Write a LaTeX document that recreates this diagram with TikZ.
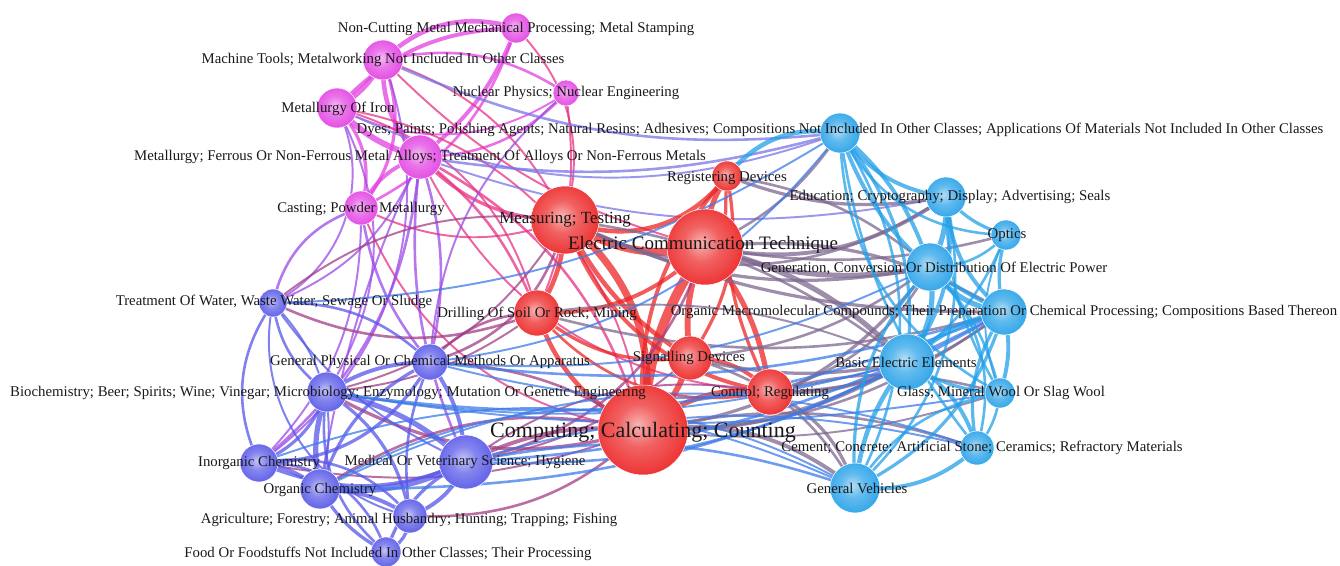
\documentclass[tikz,border=0pt]{standalone}
\usepackage{fontspec}
\setmainfont{Liberation Serif}
\pgfdeclarelayer{bg}\pgfdeclarelayer{fg}\pgfsetlayers{bg,main,fg}
\definecolor{cM}{RGB}{226,64,226}
\definecolor{cR}{RGB}{236,36,36}
\definecolor{cB}{RGB}{86,86,232}
\definecolor{cC}{RGB}{36,160,232}
\colorlet{cMR}{cM!50!cR}
\colorlet{cMB}{cM!50!cB}
\colorlet{cMC}{cM!45!cC}
\colorlet{cRB}{cR!50!cB}
\colorlet{cRC}{cR!45!cC}
\colorlet{cBC}{cB!50!cC}
\pgfdeclareradialshading{shM}{\pgfpoint{-3bp}{3bp}}{color(0bp)=(cM!35!white); color(12bp)=(cM!72!white); color(32bp)=(cM); color(50bp)=(cM!92!black)}
\pgfdeclareradialshading{shR}{\pgfpoint{-3bp}{3bp}}{color(0bp)=(cR!35!white); color(12bp)=(cR!72!white); color(32bp)=(cR); color(50bp)=(cR!92!black)}
\pgfdeclareradialshading{shB}{\pgfpoint{-3bp}{3bp}}{color(0bp)=(cB!35!white); color(12bp)=(cB!72!white); color(32bp)=(cB); color(50bp)=(cB!92!black)}
\pgfdeclareradialshading{shC}{\pgfpoint{-3bp}{3bp}}{color(0bp)=(cC!35!white); color(12bp)=(cC!72!white); color(32bp)=(cC); color(50bp)=(cC!92!black)}
\tikzset{
  nd/.style={circle, shade, shading=#1, draw=white, line width=0.5pt, inner sep=0pt},
  lab/.style={font=\fontsize{14.8}{14.8}\selectfont, text=black!90, inner sep=0pt},
  ed/.style={opacity=0.75, line cap=round}
}
\begin{document}
\begin{tikzpicture}[x=1pt,y=-1pt]
\useasboundingbox (0,0) rectangle (1340,565);
% nodes
\node[nd=shM, minimum size=30pt] (noncut) at (516,28) {};
\node[nd=shM, minimum size=40pt] (machT) at (383,60) {};
\node[nd=shM, minimum size=26pt] (nucl) at (566,93) {};
\node[nd=shM, minimum size=40pt] (metIron) at (337,108) {};
\node[nd=shM, minimum size=44pt] (alloys) at (420,157) {};
\node[nd=shM, minimum size=34pt] (casting) at (361,208) {};
\node[nd=shR, minimum size=30pt] (regDev) at (727,176) {};
\node[nd=shR, minimum size=68pt] (measuring) at (565,220) {};
\node[nd=shR, minimum size=76pt] (elecComm) at (705,247) {};
\node[nd=shR, minimum size=46pt] (drilling) at (537,313) {};
\node[nd=shR, minimum size=44pt] (signalling) at (690,358) {};
\node[nd=shR, minimum size=46pt] (control) at (770,392) {};
\node[nd=shR, minimum size=90pt] (computing) at (643,430) {};
\node[nd=shB, minimum size=28pt] (treat) at (273,303) {};
\node[nd=shB, minimum size=36pt] (genPhys) at (430,362) {};
\node[nd=shB, minimum size=40pt] (biochem) at (327,392) {};
\node[nd=shB, minimum size=38pt] (inorganic) at (259,463) {};
\node[nd=shB, minimum size=54pt] (medical) at (466,462) {};
\node[nd=shB, minimum size=40pt] (organic) at (320,489) {};
\node[nd=shB, minimum size=34pt] (agric) at (410,516) {};
\node[nd=shB, minimum size=30pt] (food) at (386,552) {};
\node[nd=shC, minimum size=40pt] (dyes) at (840,133) {};
\node[nd=shC, minimum size=40pt] (education) at (946,197) {};
\node[nd=shC, minimum size=30pt] (optics) at (1006,235) {};
\node[nd=shC, minimum size=48pt] (genConv) at (930,267) {};
\node[nd=shC, minimum size=46pt] (orgMacro) at (1004,312) {};
\node[nd=shC, minimum size=56pt] (basicElec) at (907,362) {};
\node[nd=shC, minimum size=30pt] (glass) at (1000,393) {};
\node[nd=shC, minimum size=34pt] (cement) at (977,448) {};
\node[nd=shC, minimum size=50pt] (genVeh) at (855,488) {};
% edges
\begin{pgfonlayer}{bg}
\foreach \a/\b/\c/\w/\bd in {
 noncut/machT/cM/3.5/-20, noncut/metIron/cM/3/-15, noncut/alloys/cM/3/10, noncut/casting/cM/2/15,
 machT/metIron/cM/4/10, machT/alloys/cM/3.5/-15, machT/casting/cM/2.5/20, metIron/alloys/cM/4.5/-10,
 metIron/casting/cM/2.5/20, alloys/casting/cM/3/-15, nucl/alloys/cM/2/15, nucl/machT/cM/2/-15, nucl/metIron/cM/1.5/20,
 alloys/measuring/cMR/2.5/-15, alloys/computing/cMR/2/15, alloys/drilling/cMR/2/10, metIron/drilling/cMR/1.5/20,
 machT/measuring/cMR/1.5/15, machT/elecComm/cMR/1.5/-10, casting/computing/cMR/1.5/-20, nucl/drilling/cMR/1.5/10,
 noncut/measuring/cMR/1.5/20, casting/measuring/cMR/1.5/-15, metIron/computing/cMR/1.5/25, alloys/control/cMR/1.5/-20,
 alloys/genPhys/cMB/2/10, alloys/inorganic/cMB/2/15, alloys/medical/cMB/2/-10, metIron/biochem/cMB/1.5/20,
 casting/treat/cMB/2/-20, casting/inorganic/cMB/1.5/15, machT/inorganic/cMB/1.5/25, alloys/treat/cMB/1.5/15,
 metIron/treat/cMB/1.5/30, alloys/organic/cMB/1.5/-5, casting/genPhys/cMB/2/-10, nucl/genPhys/cMB/1.5/-15,
 machT/dyes/cMC/2/-10, alloys/dyes/cMC/2/-8, alloys/education/cMC/1.5/-10, metIron/dyes/cMC/1.5/-15,
 measuring/elecComm/cR/6/-15, measuring/computing/cR/5.5/20, elecComm/computing/cR/7.5/-10, measuring/regDev/cR/3.5/-25,
 elecComm/regDev/cR/4/10, regDev/computing/cR/3/-15, measuring/drilling/cR/3.5/10, elecComm/drilling/cR/3/15,
 drilling/computing/cR/3.5/-15, signalling/computing/cR/4.5/10, elecComm/signalling/cR/4.5/-10, measuring/signalling/cR/3.5/-10,
 signalling/control/cR/3/15, control/computing/cR/4/-15, elecComm/control/cR/4/10, measuring/control/cR/3/-20,
 regDev/signalling/cR/2.5/15, regDev/control/cR/2.5/-10, drilling/signalling/cR/2.5/-15, drilling/control/cR/2/-20,
 computing/medical/cRB/3/-10, computing/biochem/cRB/2.5/15, computing/genPhys/cRB/2/-10, computing/organic/cRB/2/-15,
 computing/inorganic/cRB/1.5/10, computing/agric/cRB/2/15, measuring/genPhys/cRB/2/20, measuring/biochem/cRB/1.5/15,
 drilling/genPhys/cRB/2/-15, drilling/treat/cRB/2/15, elecComm/medical/cRB/2/20, drilling/biochem/cRB/1.5/10,
 measuring/treat/cRB/1.5/-15, control/medical/cRB/1.5/-15, signalling/medical/cRB/1.5/10,
 elecComm/genConv/cRC/4/-10, elecComm/basicElec/cRC/4/10, elecComm/education/cRC/3/-15, elecComm/orgMacro/cRC/2.5/12,
 elecComm/dyes/cRC/2/-10, elecComm/optics/cRC/2/-8, computing/basicElec/cRC/3.5/-10, computing/genVeh/cRC/3/15,
 computing/genConv/cRC/2.5/-15, computing/cement/cRC/2/10, control/basicElec/cRC/3/-10, control/genVeh/cRC/2.5/15,
 control/genConv/cRC/2/-15, control/glass/cRC/2/10, measuring/orgMacro/cRC/2.5/-8, measuring/genConv/cRC/2.5/-12,
 measuring/basicElec/cRC/2/10, regDev/dyes/cC/3.5/20, regDev/education/cRC/2.5/-10, regDev/genConv/cRC/2/10,
 signalling/basicElec/cRC/2.5/-8, signalling/genVeh/cRC/2/15, signalling/genConv/cRC/2/-10, drilling/orgMacro/cRC/2/-10,
 drilling/basicElec/cRC/1.5/10, measuring/education/cRC/2/-20, computing/orgMacro/cRC/2/-12, control/orgMacro/cRC/2/-12,
 computing/glass/cRC/1.5/-8,
 treat/genPhys/cB/2/15, treat/biochem/cB/2/-15, treat/inorganic/cB/2/-20, treat/organic/cB/1.5/20, treat/medical/cB/1.5/-10,
 genPhys/biochem/cB/3/-10, genPhys/inorganic/cB/2.5/20, genPhys/organic/cB/2.5/-15, genPhys/medical/cB/3/10,
 genPhys/agric/cB/2/-10, biochem/inorganic/cB/2.5/15, biochem/organic/cB/4/-10, biochem/medical/cB/4/10,
 biochem/agric/cB/2.5/15, biochem/food/cB/2/-20, inorganic/organic/cB/3/10, inorganic/medical/cB/2.5/-15,
 inorganic/agric/cB/2/20, inorganic/food/cB/2/25, organic/medical/cB/5/-10, organic/agric/cB/3/10,
 organic/food/cB/2.5/-10, medical/agric/cB/3/15, medical/food/cB/2.5/-15, agric/food/cB/2.5/20, treat/agric/cB/1.5/-30,
 medical/orgMacro/cBC/2/-8, medical/basicElec/cBC/2/-10, medical/genVeh/cBC/2/10, genPhys/orgMacro/cBC/2/-8,
 genPhys/basicElec/cBC/1.5/-10, biochem/orgMacro/cBC/2/-10, biochem/basicElec/cBC/1.5/-8, organic/orgMacro/cBC/2/-10,
 inorganic/genVeh/cBC/1.5/15, organic/genVeh/cBC/1.5/20, treat/dyes/cBC/1.5/-10, genPhys/dyes/cBC/1.5/-15,
 medical/cement/cBC/1.5/10, biochem/glass/cBC/1.5/-6, organic/cement/cBC/1.5/15, genPhys/genConv/cBC/1.5/-10,
 dyes/education/cC/3/-15, dyes/optics/cC/2/-20, dyes/genConv/cC/3/10, dyes/orgMacro/cC/3/-15, dyes/basicElec/cC/2.5/15,
 dyes/glass/cC/2/-20, dyes/cement/cC/2/-10, dyes/genVeh/cC/2/20, education/optics/cC/2.5/-10, education/genConv/cC/4/10,
 education/orgMacro/cC/3/-15, education/basicElec/cC/3/15, education/genVeh/cC/2/20, education/glass/cC/2/-10,
 optics/genConv/cC/2/15, optics/orgMacro/cC/2.5/-10, optics/basicElec/cC/2/10, optics/glass/cC/1.5/-15,
 genConv/orgMacro/cC/4/-15, genConv/basicElec/cC/4/15, genConv/genVeh/cC/2.5/-15, genConv/glass/cC/2/10,
 genConv/cement/cC/2/20, orgMacro/basicElec/cC/4/-10, orgMacro/glass/cC/3/10, orgMacro/cement/cC/2.5/-15,
 orgMacro/genVeh/cC/2.5/15, basicElec/glass/cC/2.5/-10, basicElec/cement/cC/3/15, basicElec/genVeh/cC/3.5/-10,
 glass/cement/cC/2/10, cement/genVeh/cC/3/15, glass/genVeh/cC/2/-15}
 {\pgfmathsetmacro\bb{1.5*\bd}
  \draw[ed, draw=\c, line width=1.3*\w pt] (\a.center) to[bend left=\bb] (\b.center);}
\end{pgfonlayer}
% labels
\begin{pgfonlayer}{fg}
\node[lab] (lnoncut) at (516,29) {Non-Cutting Metal Mechanical Processing; Metal Stamping};
\node[lab] (lmachT) at (383,60) {Machine Tools; Metalworking Not Included In Other Classes};
\node[lab] (lnucl) at (566,93) {Nuclear Physics; Nuclear Engineering};
\node[lab] (lmetIron) at (338,109) {Metallurgy Of Iron};
\node[lab] (ldyes) at (840,130) {Dyes; Paints; Polishing Agents; Natural Resins; Adhesives; Compositions Not Included In Other Classes; Applications Of Materials Not Included In Other Classes};
\node[lab] (lalloys) at (420,157) {Metallurgy; Ferrous Or Non-Ferrous Metal Alloys; Treatment Of Alloys Or Non-Ferrous Metals};
\node[lab] (lcasting) at (361,209) {Casting; Powder Metallurgy};
\node[lab] (lregDev) at (727,178) {Registering Devices};
\node[lab, font=\fontsize{17}{17}\selectfont] (lmeasuring) at (565,220) {Measuring; Testing};
\node[lab, font=\fontsize{19}{19}\selectfont] (lelecComm) at (703,245) {Electric Communication Technique};
\node[lab] (leducation) at (950,197) {Education; Cryptography; Display; Advertising; Seals};
\node[lab] (loptics) at (1007,235) {Optics};
\node[lab] (lgenConv) at (934,268) {Generation, Conversion Or Distribution Of Electric Power};
\node[lab] (ltreat) at (274,302) {Treatment Of Water, Waste Water, Sewage Or Sludge};
\node[lab] (ldrilling) at (537,314) {Drilling Of Soil Or Rock; Mining};
\node[lab] (lorgMacro) at (1004,312) {Organic Macromolecular Compounds; Their Preparation Or Chemical Processing; Compositions Based Thereon};
\node[lab] (lgenPhys) at (430,362) {General Physical Or Chemical Methods Or Apparatus};
\node[lab] (lsignalling) at (689,358) {Signalling Devices};
\node[lab] (lbasicElec) at (906,362) {Basic Electric Elements};
\node[lab] (lbiochem) at (328,393) {Biochemistry; Beer; Spirits; Wine; Vinegar; Microbiology; Enzymology; Mutation Or Genetic Engineering};
\node[lab] (lcontrol) at (770,393) {Control; Regulating};
\node[lab] (lglass) at (1001,393) {Glass; Mineral Wool Or Slag Wool};
\node[lab, font=\fontsize{22}{22}\selectfont] (lcomputing) at (643,432) {Computing; Calculating; Counting};
\node[lab] (lcement) at (982,448) {Cement; Concrete; Artificial Stone; Ceramics; Refractory Materials};
\node[lab] (linorganic) at (259,463) {Inorganic Chemistry};
\node[lab] (lmedical) at (465,462) {Medical Or Veterinary Science; Hygiene};
\node[lab] (lgenVeh) at (857,488) {General Vehicles};
\node[lab] (lorganic) at (320,490) {Organic Chemistry};
\node[lab] (lagric) at (409,520) {Agriculture; Forestry; Animal Husbandry; Hunting; Trapping; Fishing};
\node[lab] (lfood) at (388,554) {Food Or Foodstuffs Not Included In Other Classes; Their Processing};
\end{pgfonlayer}
\end{tikzpicture}
\end{document}
